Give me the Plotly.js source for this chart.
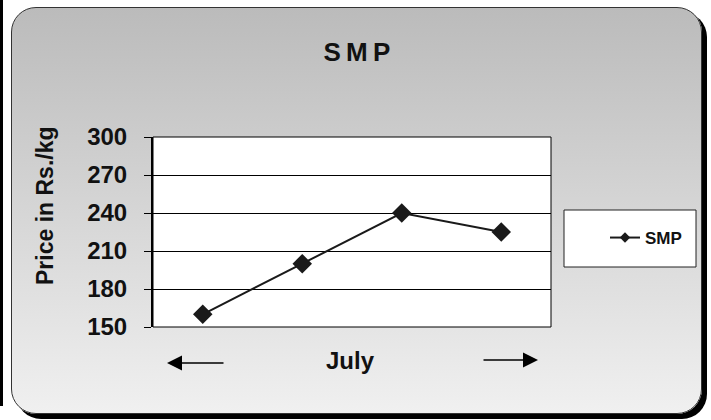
<!DOCTYPE html>
<html><head><meta charset="utf-8">
<script src="https://cdn.plot.ly/plotly-3.0.1.min.js"></script>
<style>
html,body{margin:0;padding:0;background:#fff;width:711px;height:420px;overflow:hidden}
#bar{position:absolute;left:0;top:0;width:3px;height:406px;background:#000}
#frame{position:absolute;left:11px;top:7px;width:689px;height:405px;border:1.5px solid #333;border-radius:25px;background:linear-gradient(#bbbbbb,#f0f0f0);box-shadow:5px 5px 0 #000}
#chart{position:absolute;left:0;top:0;width:711px;height:420px}
</style></head><body>
<div id="bar"></div><div id="frame"></div><div id="chart"></div>
<script>
const categories = ["Week 1", "Week 2", "Week 3", "Week 4"];
const smpPrice = [160, 200, 240, 225];
const yTicks = [150, 180, 210, 240, 270, 300];
const seriesName = "SMP";
const chartTitle = "S\u2009M\u2009P";
const yTitle = "Price in Rs./kg";
const xTitle = "July";

const F = "Liberation Sans, Arial, sans-serif";
const trace = {
  type: "scatter", mode: "lines+markers", name: seriesName, showlegend: false,
  x: categories, y: smpPrice,
  line: {color: "#1a1a1a", width: 2},
  marker: {symbol: "diamond", size: 15, color: "#1a1a1a"},
  cliponaxis: false
};
// legend entry for the same series (smaller symbol, as in the reference legend)
const legendEntry = {
  type: "scatter", mode: "lines+markers", name: seriesName, showlegend: true,
  x: [null], y: [null],
  line: {color: "#1a1a1a", width: 2},
  marker: {symbol: "diamond", size: 8, color: "#1a1a1a"}
};
const layout = {
  width: 711, height: 420,
  margin: {l: 153, r: 160, t: 137, b: 93, pad: 0},
  paper_bgcolor: "rgba(0,0,0,0)", plot_bgcolor: "#fff",
  title: {text: "<b>" + chartTitle + "</b>", font: {family: F, size: 26, color: "#111"},
          x: 0.502, xanchor: "center", y: 1 - 52/420, yanchor: "middle"},
  xaxis: {type: "category", showticklabels: false, ticks: "", showgrid: false, zeroline: false,
          range: [-0.5, 3.5], fixedrange: true},
  yaxis: {range: [150, 300], tickvals: yTicks, ticks: "outside", ticklen: 7, tickwidth: 1, tickcolor: "#000",
          showgrid: true, gridcolor: "#000", gridwidth: 1, showline: true, linecolor: "#000", linewidth: 2,
          zeroline: false, ticklabelstandoff: 12,
          tickfont: {family: F, size: 24, color: "#111", weight: "bold"}},
  showlegend: true,
  legend: {x: (605-153)/398, xanchor: "left", y: (327-238)/190, yanchor: "middle",
           bgcolor: "rgba(0,0,0,0)", borderwidth: 0,
           font: {family: F, size: 17, color: "#111", weight: "bold"}},
  shapes: [
    {type: "rect", xref: "paper", yref: "paper", x0: 0, x1: 1, y0: 0, y1: 1, line: {color: "#000", width: 1}},
    {type: "rect", xref: "paper", yref: "paper", x0: (564-153)/398, x1: (696-153)/398,
     y0: (327-267)/190, y1: (327-210)/190, fillcolor: "#fff", line: {color: "#222", width: 1}, layer: "below"}
  ],
  annotations: [
    {text: "<b>" + yTitle + "</b>", xref: "paper", yref: "paper", x: (45-153)/398, y: (327-206)/190, textangle: -90,
     showarrow: false, xanchor: "center", yanchor: "middle",
     font: {family: F, size: 23, color: "#111"}},
    {text: "<b>" + xTitle + "</b>", xref: "paper", yref: "paper", x: (350-153)/398, y: (327-360)/190,
     showarrow: false, xanchor: "center", yanchor: "middle",
     font: {family: F, size: 24, color: "#111"}},
    {text: "", xref: "paper", yref: "paper", x: (167-153)/398, y: (327-363)/190, ax: 58, ay: 0,
     showarrow: true, arrowhead: 2, arrowsize: 2, arrowwidth: 1.5, arrowcolor: "#000", standoff: 0},
    {text: "", xref: "paper", yref: "paper", x: (538-153)/398, y: (327-360)/190, ax: -56, ay: 0,
     showarrow: true, arrowhead: 2, arrowsize: 2, arrowwidth: 1.5, arrowcolor: "#000", standoff: 0}
  ]
};
Plotly.newPlot("chart", [trace, legendEntry], layout, {staticPlot: true, displayModeBar: false});
</script>
</body></html>
